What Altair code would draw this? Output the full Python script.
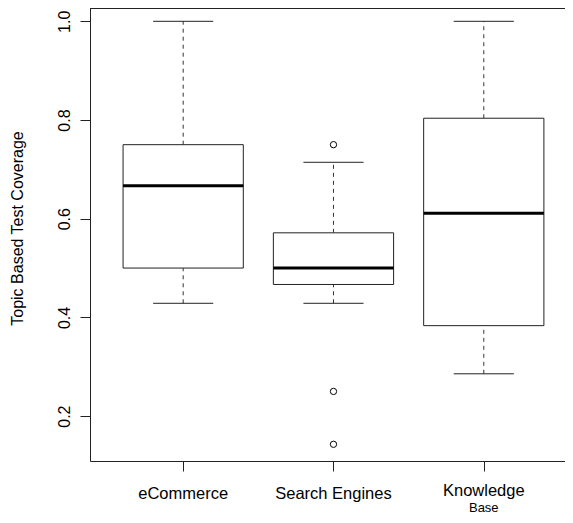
import altair as alt
import pandas as pd

categories = ["eCommerce", "Search Engines", "Knowledge Base"]
whisker_lo = [0.4286, 0.4286, 0.2857]
q1 = [0.5, 0.4667, 0.3833]
median = [0.6667, 0.5, 0.6111]
q3 = [0.75, 0.5714, 0.8036]
whisker_hi = [1.0, 0.7143, 1.0]
outlier_cat = ["Search Engines", "Search Engines", "Search Engines"]
outlier_val = [0.75, 0.25, 0.1429]
y_ticks = [0.2, 0.4, 0.6, 0.8, 1.0]

label_line1 = ["eCommerce", "Search Engines", "Knowledge"]
label_line2 = ["", "", "Base"]

FONT = "Liberation Sans"
W, H = 475, 453

pos = {c: i + 1 for i, c in enumerate(categories)}
box = pd.DataFrame({"cat": categories, "lo": whisker_lo, "q1": q1, "med": median,
                    "q3": q3, "hi": whisker_hi})
box["pos"] = box["cat"].map(pos)
box["left"] = box["pos"] - 0.4
box["right"] = box["pos"] + 0.4
box["cl"] = box["pos"] - 0.2
box["cr"] = box["pos"] + 0.2

out = pd.DataFrame({"cat": outlier_cat, "v": outlier_val})
out["pos"] = out["cat"].map(pos)

labs = pd.DataFrame({"l1": label_line1, "l2": label_line2})
labs["pos"] = [i + 1 for i in range(len(label_line1))]

xs = alt.Scale(domain=[0.38, 0.38 + W / 150.3], nice=False, zero=False)
ys = alt.Scale(domain=[0.10902, 1.02695], nice=False, zero=False)

xaxis = alt.Axis(values=[1, 2, 3], labels=False, title=None, tickSize=10,
                 tickColor="#222", domainColor="#222", grid=False, ticks=True)
yaxis = alt.Axis(values=y_ticks, format=".1f", labelAngle=270, labelAlign="center",
                 labelBaseline="alphabetic", labelPadding=11, tickSize=10,
                 labelFont=FONT, labelFontSize=16, labelColor="#000",
                 tickColor="#222", domainColor="#222", grid=False,
                 title="Topic Based Test Coverage", titleFont=FONT, titleFontSize=16,
                 titleFontWeight="normal", titleColor="#000", titleAngle=270,
                 titleAlign="center", titleBaseline="alphabetic", titleX=-67.5, titleY=220)

base = alt.Chart(box)

frame_top = alt.Chart(box).mark_rule(color="#222", strokeWidth=1).encode(
    x=alt.value(0), x2=alt.value(W), y=alt.value(0.5))

wh_up = base.mark_rule(color="#333", strokeWidth=1, strokeDash=[4, 4]).encode(
    x=alt.X("pos:Q", scale=xs, axis=xaxis),
    y=alt.Y("q3:Q", scale=ys, axis=yaxis),
    y2="hi:Q")
wh_dn = base.mark_rule(color="#333", strokeWidth=1, strokeDash=[4, 4]).encode(
    x=alt.X("pos:Q", scale=xs), y=alt.Y("lo:Q", scale=ys), y2="q1:Q")
cap_hi = base.mark_rule(color="#222", strokeWidth=1).encode(
    x=alt.X("cl:Q", scale=xs), x2="cr:Q", y=alt.Y("hi:Q", scale=ys))
cap_lo = base.mark_rule(color="#222", strokeWidth=1).encode(
    x=alt.X("cl:Q", scale=xs), x2="cr:Q", y=alt.Y("lo:Q", scale=ys))
rect = base.mark_rect(fill="white", stroke="#222", strokeWidth=1).encode(
    x=alt.X("left:Q", scale=xs), x2="right:Q",
    y=alt.Y("q1:Q", scale=ys), y2="q3:Q")
med = base.mark_rule(color="black", strokeWidth=3).encode(
    x=alt.X("left:Q", scale=xs), x2="right:Q", y=alt.Y("med:Q", scale=ys))
pts = alt.Chart(out).mark_point(shape="circle", filled=False, color="black",
                                 strokeWidth=1, size=40, opacity=1).encode(
    x=alt.X("pos:Q", scale=xs), y=alt.Y("v:Q", scale=ys))

lab_single = alt.Chart(labs).transform_filter("datum.l2 == ''").mark_text(
    font=FONT, fontSize=16.5, baseline="alphabetic", align="center", color="black").encode(
    x=alt.X("pos:Q", scale=xs), y=alt.value(491), text="l1:N")
lab_top = alt.Chart(labs).transform_filter("datum.l2 != ''").mark_text(
    font=FONT, fontSize=16.5, baseline="alphabetic", align="center", color="black").encode(
    x=alt.X("pos:Q", scale=xs), y=alt.value(488), text="l1:N")
lab_bot = alt.Chart(labs).transform_filter("datum.l2 != ''").mark_text(
    font=FONT, fontSize=13, baseline="alphabetic", align="center", color="black").encode(
    x=alt.X("pos:Q", scale=xs), y=alt.value(504), text="l2:N")

chart = alt.layer(wh_up, wh_dn, cap_hi, cap_lo, rect, med, pts,
                  lab_single, lab_top, lab_bot, frame_top).properties(
    width=W, height=H,
    autosize=alt.AutoSizeParams(type="none"),
    padding={"left": 82, "top": 0, "right": 0, "bottom": 54},
    background="white",
).configure_view(stroke=None)

chart.save("out.html", embed_options={"renderer": "svg", "actions": False})
